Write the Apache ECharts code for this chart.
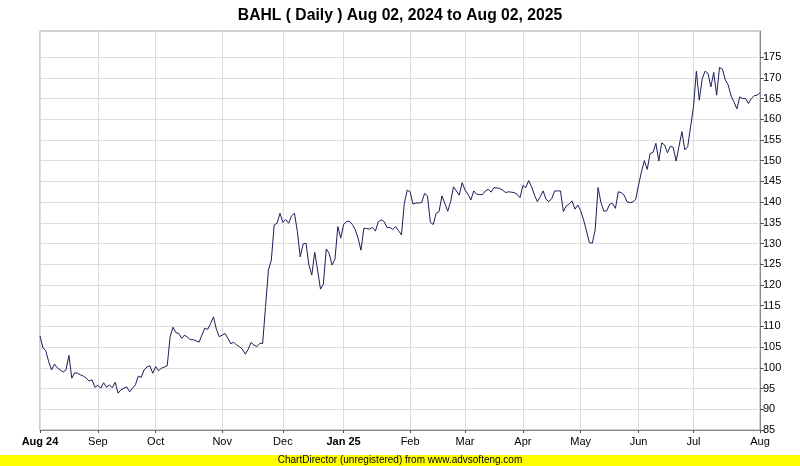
<!DOCTYPE html>
<html><head><meta charset="utf-8">
<script src="https://cdn.jsdelivr.net/npm/echarts@6/dist/echarts.min.js"></script>
<style>html,body{margin:0;padding:0;background:#fff}#c{width:800px;height:466px}</style>
</head><body><div id="c"></div>
<script>
const titleText = 'BAHL ( Daily ) Aug 02, 2024 to Aug 02, 2025';
const footerText = 'ChartDirector (unregistered) from www.advsofteng.com';
const startDate = '2024-08-02';
const endDate = '2025-08-01';
const holidays = ['2024-08-14','2024-09-17','2024-12-25','2025-02-05','2025-03-31','2025-04-01','2025-04-02','2025-05-01','2025-05-28','2025-06-06','2025-06-09'];
const monthNames = ['Jan','Feb','Mar','Apr','May','Jun','Jul','Aug','Sep','Oct','Nov','Dec'];
const yTicks = [85,90,95,100,105,110,115,120,125,130,135,140,145,150,155,160,165,170,175];

// Closing prices, one per trading day (Aug 2024 .. Aug 2025)
const closesAugSep = [107.7,104.9,104.1,101.5,99.5,100.9,100.0,99.5,99.0,99.5,103.0,97.5,98.8,98.7,98.3,98.0,97.5,96.8,97.1,95.3,
  95.8,95.1,96.4,95.3,95.9,95.2,96.5,93.9,94.7,95.1,95.4,94.2,95.1,95.9,98.0,97.7,99.5,100.2,100.5,98.7,
  100.3,99.3,99.9,100.2,100.5];
const closesOctNov = [107.5,109.8,108.5,108.3,107.1,107.9,107.4,106.8,106.8,106.5,106.2,107.9,109.6,109.3,110.7,112.3,109.3,107.5,107.9,108.3,
  107.1,105.8,106.2,105.5,105.1,104.5,103.3,104.5,106.1,105.5,105.1,105.9,105.9,114.8,123.6,126.0,134.5,134.9,137.3,135.1,
  135.8,134.9,136.7,137.3,132.9,126.8,129.9,130.1,124.8];
const closesDecJan = [122.4,127.9,123.6,119.0,120.2,128.7,127.6,124.8,126.2,134.1,131.3,134.6,135.3,135.4,134.6,133.4,131.3,128.4,133.7,133.6,
  133.5,133.9,133.0,135.3,135.7,135.3,133.9,133.9,133.4,134.1,133.1,132.1,139.7,142.9,142.5,139.5,139.8,139.8,139.9,142.1,
  141.5,135.1,134.6,137.3];
const closesFebMay = [137.7,141.5,139.7,137.8,140.1,143.7,142.7,141.7,144.7,142.9,141.9,140.5,142.7,141.9,141.8,141.8,142.7,143.1,142.4,143.5,
  143.4,143.3,142.9,142.3,142.5,142.4,142.3,141.9,141.1,144.0,143.5,145.2,143.7,141.7,140.1,141.3,142.7,140.7,140.1,140.9,
  142.7,142.7,142.7,137.7,139.1,139.5,140.3,138.3,139.3,137.9,135.7,133.0,130.2,130.1,133.3,143.5,139.9,137.8,137.9,139.5];
const closesMayAug = [139.7,138.5,142.5,142.3,141.7,140.1,139.9,140.0,140.7,144.1,147.3,150.0,147.9,151.7,152.0,154.2,149.9,154.3,153.8,151.9,
  153.5,153.2,149.9,153.5,157.0,152.6,153.4,158.2,163.0,171.6,164.6,169.7,171.6,171.1,167.8,171.3,165.8,172.5,172.1,169.5,
  168.3,165.6,164.2,162.5,165.4,165.0,165.0,163.8,165.0,165.7,165.8,166.4];
const closes = [].concat(closesAugSep, closesOctNov, closesDecJan, closesFebMay, closesMayAug);

function tradingDays() {
  const out = [];
  const d = new Date(startDate + 'T00:00:00Z');
  const end = new Date(endDate + 'T00:00:00Z');
  while (d <= end) {
    const s = d.toISOString().slice(0, 10);
    const wd = d.getUTCDay();
    if (wd !== 0 && wd !== 6 && holidays.indexOf(s) < 0) out.push(s);
    d.setUTCDate(d.getUTCDate() + 1);
  }
  return out;
}
const dates = tradingDays();
const firstOfMonth = {};
dates.forEach((s, i) => {
  const prev = i > 0 ? dates[i - 1] : null;
  if (!prev || prev.slice(0, 7) !== s.slice(0, 7)) firstOfMonth[i] = true;
});
function monthLabel(s, i) {
  const y = +s.slice(0, 4), m = +s.slice(5, 7);
  if (i === 0 || m === 1) return '{b|' + monthNames[m - 1] + ' ' + String(y).slice(2) + '}';
  return monthNames[m - 1];
}

const chart = echarts.init(document.getElementById('c'), null, { renderer: 'canvas' });
chart.setOption({
  animation: false,
  backgroundColor: '#ffffff',
  title: {
    text: titleText, left: 'center', top: 3,
    textStyle: { fontFamily: 'Liberation Sans', fontWeight: 'bold', fontSize: 15.7, color: '#000' }
  },
  grid: { left: 40, right: 40, top: 31, bottom: 36, show: true, borderColor: '#a0a0a0', borderWidth: 1, backgroundColor: '#ffffff' },
  xAxis: {
    type: 'category', data: dates, boundaryGap: false,
    axisLine: { show: true, lineStyle: { color: '#888888', width: 1 } },
    axisTick: { show: true, length: 3, interval: (i) => !!firstOfMonth[i], lineStyle: { color: '#555555' } },
    axisLabel: {
      interval: (i) => !!firstOfMonth[i], margin: 6,
      formatter: (v, i) => monthLabel(v, i),
      fontFamily: 'Liberation Sans', fontSize: 11, color: '#000',
      rich: { b: { fontFamily: 'Liberation Sans', fontSize: 11, fontWeight: 'bold', color: '#000' } }
    },
    splitLine: { show: true, interval: (i) => !!firstOfMonth[i], lineStyle: { color: '#dcdcdc', width: 1 } }
  },
  yAxis: {
    type: 'value', position: 'right', min: 85, max: 181.3,
    axisLine: { show: true, lineStyle: { color: '#888888', width: 1 } },
    axisTick: { show: true, length: 4, customValues: yTicks, lineStyle: { color: '#555555' } },
    axisLabel: { customValues: yTicks, margin: 3, fontFamily: 'Liberation Sans', fontSize: 11, color: '#000' },
    splitLine: { show: true, lineStyle: { color: '#dcdcdc', width: 1 } }
  },
  series: [{
    type: 'line', data: closes, showSymbol: false, connectNulls: true,
    lineStyle: { color: '#1c1c5c', width: 1 }, itemStyle: { color: '#1c1c5c' }
  }],
  graphic: [
    { type: 'rect', left: 0, top: 455, shape: { width: 800, height: 11 }, style: { fill: '#ffff00' }, silent: true },
    { type: 'text', left: 'center', top: 455, style: { text: footerText, font: '10px "Liberation Sans"', fill: '#000' }, silent: true }
  ]
});
</script></body></html>
